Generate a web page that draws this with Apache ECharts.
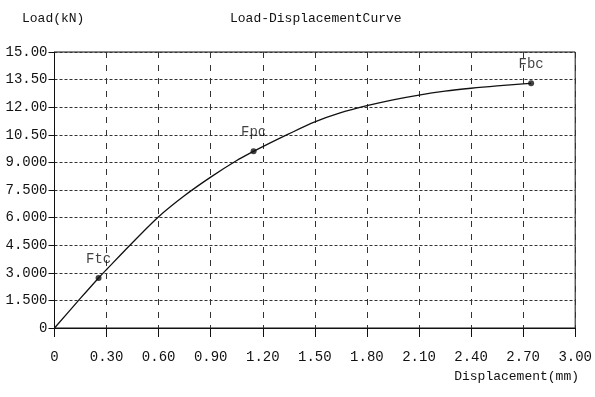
<!DOCTYPE html>
<html>
<head>
<meta charset="utf-8">
<script src="https://cdn.jsdelivr.net/npm/echarts@6/dist/echarts.min.js"></script>
<style>
  html, body { margin: 0; padding: 0; background: #fff; }
  #chart { width: 595px; height: 397px; }
</style>
</head>
<body>
<div id="chart"></div>
<script>
// Load-displacement test record
const displacement = [0, 0.15, 0.254, 0.30, 0.45, 0.60, 0.75, 0.90, 1.05, 1.147, 1.20, 1.35, 1.50, 1.65, 1.80, 1.95, 2.10, 2.25, 2.40, 2.55, 2.70, 2.746];
const load = [0, 1.62, 2.72, 3.18, 4.65, 6.05, 7.2, 8.2, 9.1, 9.6, 9.86, 10.55, 11.2, 11.7, 12.08, 12.4, 12.66, 12.87, 13.03, 13.16, 13.27, 13.30];

// Characteristic points on the curve
const pointNames = ['Ftc', 'Fpc', 'Fbc'];
const pointDisp = [0.254, 1.147, 2.746];
const pointLoad = [2.72, 9.6, 13.30];

const xMin = 0, xMax = 3.0, xStep = 0.3;
const yMin = 0, yMax = 15.0, yStep = 1.5;

const FONT = 'Liberation Mono';
const TXT = '#111';

const chart = echarts.init(document.getElementById('chart'), null, { renderer: 'canvas' });

function yLabel(v) {
  if (Math.abs(v) < 1e-9) return '0';
  return v >= 10 ? v.toFixed(2) : v.toFixed(3);
}
function xLabel(v) {
  if (Math.abs(v) < 1e-9) return '0';
  return v.toFixed(2);
}

chart.setOption({
  animation: false,
  backgroundColor: '#fff',
  grid: {
    left: 54.5, right: 15, top: 52, bottom: 69,
    show: true, borderColor: '#111', borderWidth: 1, backgroundColor: 'transparent'
  },
  graphic: [
    { type: 'text', left: 22, top: 12, style: { text: 'Load(kN)', font: '13px "' + FONT + '"', fill: TXT } },
    { type: 'text', left: 230, top: 12, style: { text: 'Load-DisplacementCurve', font: '13px "' + FONT + '"', fill: TXT } },
    { type: 'text', right: 16, top: 370, style: { text: 'Displacement(mm)', font: '13px "' + FONT + '"', fill: TXT } }
  ],
  xAxis: {
    type: 'value', min: xMin, max: xMax, interval: xStep,
    axisLine: { show: true, onZero: false, lineStyle: { color: '#111', width: 1 } },
    axisTick: { show: true, length: 9, lineStyle: { color: '#111' } },
    axisLabel: { formatter: xLabel, margin: 22, fontFamily: FONT, fontSize: 14, color: TXT },
    splitLine: { show: true, lineStyle: { color: '#333', type: [6, 7], width: 1 } }
  },
  yAxis: {
    type: 'value', min: yMin, max: yMax, interval: yStep,
    axisLine: { show: true, onZero: false, lineStyle: { color: '#111', width: 1 } },
    axisTick: { show: true, length: 6, lineStyle: { color: '#111' } },
    axisLabel: { formatter: yLabel, margin: 7, fontFamily: FONT, fontSize: 14, color: TXT },
    splitLine: { show: true, lineStyle: { color: '#333', type: [3, 2], width: 1 } }
  },
  series: [
    {
      type: 'line',
      data: displacement.map((d, i) => [d, load[i]]),
      smooth: 0.3,
      showSymbol: false,
      lineStyle: { color: '#111', width: 1.3 },
      z: 3
    },
    {
      type: 'scatter',
      data: pointNames.map((n, i) => ({ name: n, value: [pointDisp[i], pointLoad[i]] })),
      symbol: 'circle',
      symbolSize: 6,
      itemStyle: { color: '#111' },
      label: {
        show: true, position: 'top', distance: 9,
        formatter: p => p.name,
        fontFamily: FONT, fontSize: 14, color: TXT
      },
      z: 4
    }
  ]
});
</script>
</body>
</html>
